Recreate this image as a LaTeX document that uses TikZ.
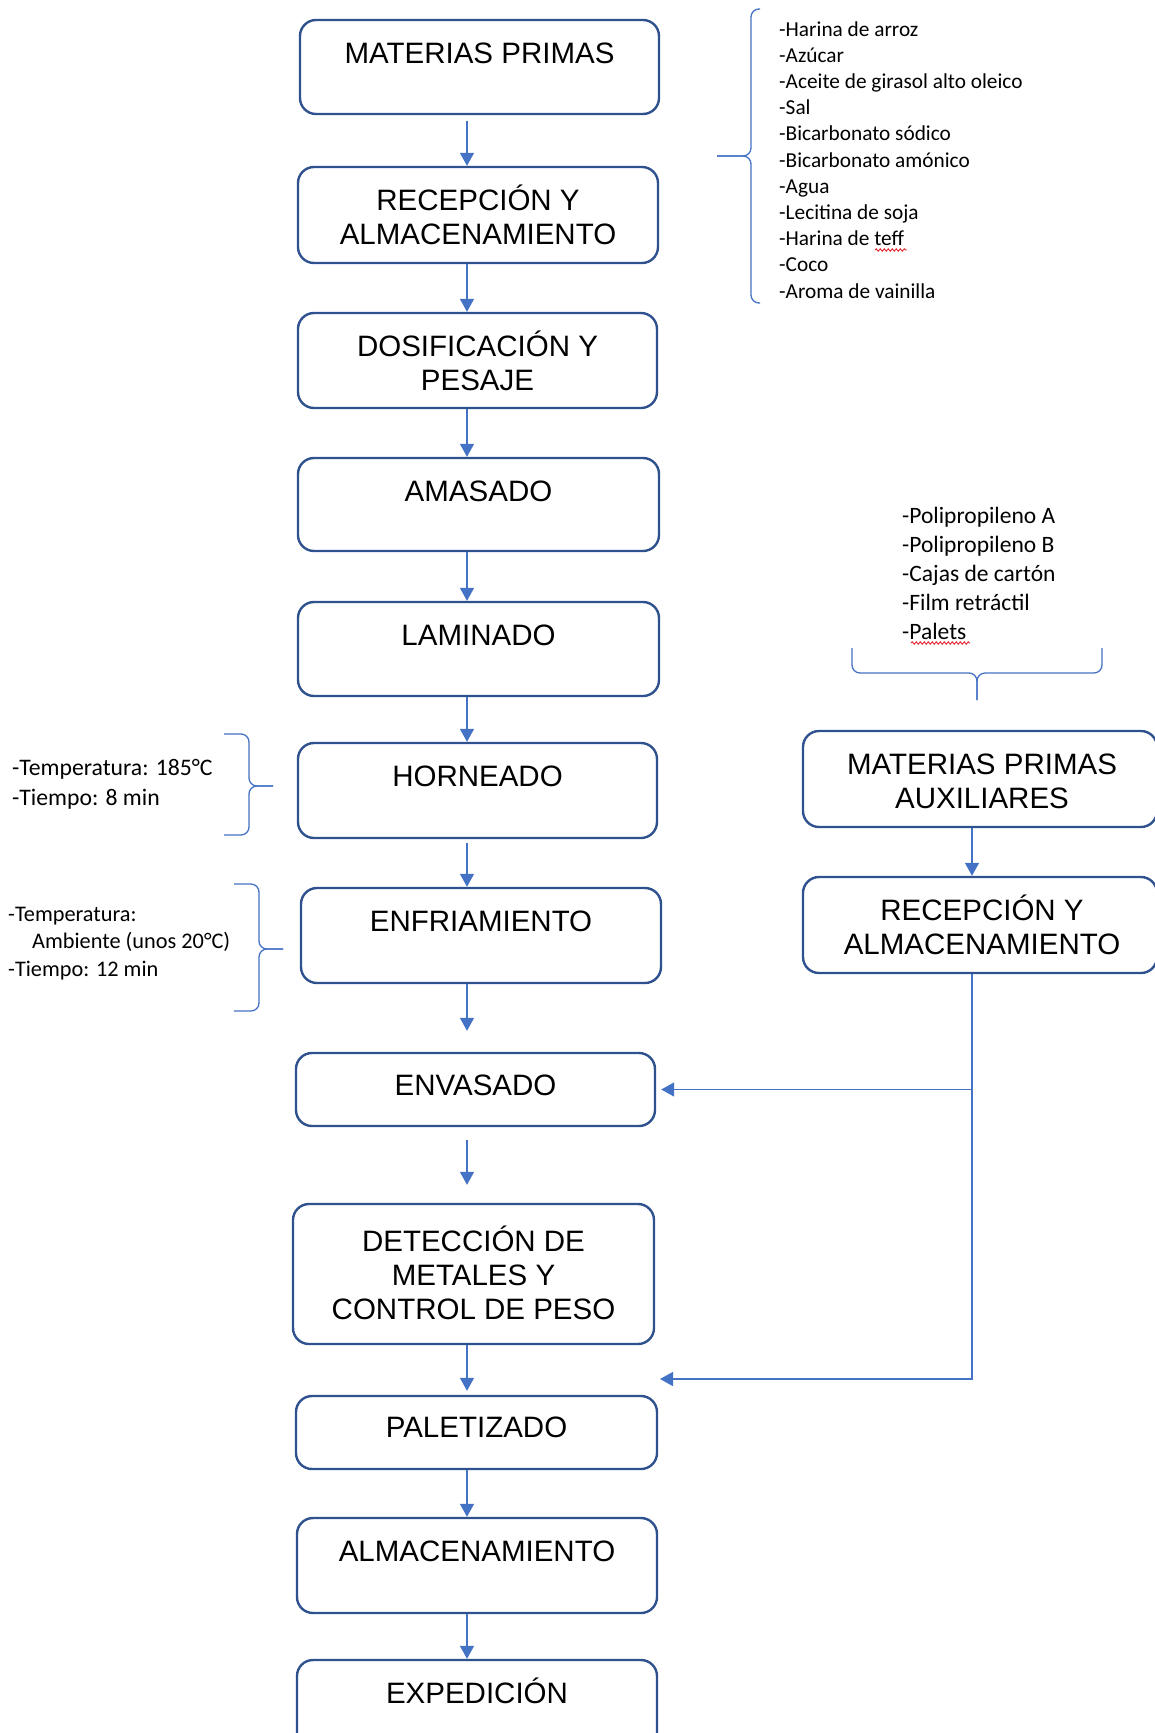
\documentclass[tikz,border=0pt]{standalone}
\usepackage{fontspec}
\setmainfont{Liberation Sans}
\newfontfamily\calfont{Carlito}
\usetikzlibrary{arrows.meta,decorations.pathmorphing}
\definecolor{boxblue}{HTML}{2F528F}
\definecolor{arrblue}{HTML}{4472C4}
\definecolor{spellred}{HTML}{E0242B}
\begin{document}
\begin{tikzpicture}[x=1pt,y=-1pt,
  stage/.style={draw=boxblue, line width=2.4pt, rounded corners=16pt, inner sep=0pt},
  stxt/.style={anchor=base, align=center, inner sep=0pt, font=\fontsize{29.5}{34}\selectfont},
  ann/.style={anchor=base west, align=left, inner sep=0pt},
  flow/.style={draw=arrblue, line width=1.5pt, -{Triangle[length=13pt,width=14pt]}},
  brace/.style={draw=arrblue, line width=1.3pt, rounded corners=8pt},
  squiggle/.style={draw=spellred, line width=0.9pt, decorate, decoration={snake, amplitude=1.2pt, segment length=4pt}}]
\useasboundingbox (0,0) rectangle (1155,1733);
\clip (0,0) rectangle (1155,1733);

% main column boxes
\node[stage, minimum width=359pt, minimum height=94pt] (b1) at (479.5,67) {};
\node[stage, minimum width=360pt, minimum height=96pt] (b2) at (478,215) {};
\node[stage, minimum width=359pt, minimum height=95pt] (b3) at (477.5,360.5) {};
\node[stage, minimum width=361pt, minimum height=93pt] (b4) at (478.5,504.5) {};
\node[stage, minimum width=361pt, minimum height=94pt] (b5) at (478.5,649) {};
\node[stage, minimum width=359pt, minimum height=95pt] (b6) at (477.5,790.5) {};
\node[stage, minimum width=360pt, minimum height=95pt] (b7) at (481,935.5) {};
\node[stage, minimum width=359pt, minimum height=73pt] (b8) at (475.5,1089.5) {};
\node[stage, minimum width=361pt, minimum height=140pt] (b9) at (473.5,1274) {};
\node[stage, minimum width=361pt, minimum height=73pt] (b10) at (476.5,1432.5) {};
\node[stage, minimum width=360pt, minimum height=95pt] (b11) at (477,1565.5) {};
\node[stage, minimum width=360pt, minimum height=95pt] (b12) at (477,1707.5) {};

% right column boxes
\node[stage, minimum width=354pt, minimum height=96pt] (a1) at (980,779) {};
\node[stage, minimum width=354pt, minimum height=96pt] (a2) at (980,925) {};

% box texts (base anchor = baseline of the last line)
\node[stxt] (t1) at ([yshift=-44.5pt]b1.north) {MATERIAS PRIMAS};
\node[stxt] (t2x) at ([yshift=-78.5pt]b2.north) {RECEPCIÓN Y\\ALMACENAMIENTO};
\node[stxt] (t3) at ([yshift=-78.5pt]b3.north) {DOSIFICACIÓN Y\\PESAJE};
\node[stxt] (t4) at ([yshift=-44.5pt]b4.north) {AMASADO};
\node[stxt] (t5) at ([yshift=-44.5pt]b5.north) {LAMINADO};
\node[stxt] (t6) at ([yshift=-45pt]b6.north) {HORNEADO};
\node[stxt] (t7) at ([yshift=-45pt]b7.north) {ENFRIAMIENTO};
\node[stxt] (t8) at ([yshift=-43.5pt]b8.north) {ENVASADO};
\node[stxt] (t9) at ([yshift=-116.5pt]b9.north) {DETECCIÓN DE\\METALES Y\\CONTROL DE PESO};
\node[stxt] (t10) at ([yshift=-43pt]b10.north) {PALETIZADO};
\node[stxt] (t11) at ([yshift=-44.5pt]b11.north) {ALMACENAMIENTO};
\node[stxt] (t12) at ([yshift=-44.5pt]b12.north) {EXPEDICIÓN};
\node[stxt] (ta1) at ([xshift=2pt,yshift=-78.5pt]a1.north) {MATERIAS PRIMAS\\AUXILIARES};
\node[stxt] (ta2) at ([xshift=2pt,yshift=-78.5pt]a2.north) {RECEPCIÓN Y\\ALMACENAMIENTO};

% annotations (base west = baseline of the last line)
\node[ann, font=\calfont\fontsize{21.3}{26.2}\selectfont] (ing) at (779,298)
  {-Harina de arroz\\-Azúcar\\-Aceite de girasol alto oleico\\-Sal\\-Bicarbonato sódico\\-Bicarbonato amónico\\-Agua\\-Lecitina de soja\\-Harina de teff\\-Coco\\-Aroma de vainilla};
\node[ann, font=\calfont\fontsize{23.5}{29}\selectfont] (aux) at (902,639)
  {-Polipropileno A\\-Polipropileno B\\-Cajas de cartón\\-Film retráctil\\-Palets};
\node[ann, font=\calfont\fontsize{23.7}{30}\selectfont] (hann) at (12,805)
  {-Temperatura: 185°C\\-Tiempo: 8 min};
\node[ann, font=\calfont\fontsize{22.3}{27.2}\selectfont] (eann) at (8,976)
  {-Temperatura:\\\hspace*{24pt}Ambiente (unos 20°C)\\-Tiempo: 12 min};

% spell-check marks
\draw[squiggle] (875,250) -- (907,250);
\draw[squiggle] (911,643) -- (970,643);

% braces
\draw[brace] (760,9) -- (751,9) -- (751,156) -- (717,156);
\draw[brace] (760,303) -- (751,303) -- (751,156) -- (717,156);
\draw[brace] (852,648) -- (852,673) -- (977,673) -- (977,700);
\draw[brace] (1102,648) -- (1102,673) -- (977,673) -- (977,700);
\draw[brace] (224,734) -- (249,734) -- (249,786) -- (273,786);
\draw[brace] (224,835) -- (249,835) -- (249,786) -- (273,786);
\draw[brace] (234,884) -- (259,884) -- (259,949) -- (283,949);
\draw[brace] (234,1011) -- (259,1011) -- (259,949) -- (283,949);

% connectors
\coordinate (ax) at (467,0);
\coordinate (rx) at (972,0);
\coordinate (tp) at (660,1379);
\draw[flow, shorten <=6pt] (b1.south -| ax) -- (b2.north -| ax);
\draw[flow] (b2.south -| ax) -- (b3.north -| ax);
\draw[flow] (b3.south -| ax) -- (b4.north -| ax);
\draw[flow] (b4.south -| ax) -- (b5.north -| ax);
\draw[flow] (b5.south -| ax) -- (b6.north -| ax);
\draw[flow, shorten <=4pt] (b6.south -| ax) -- (b7.north -| ax);
\draw[flow, shorten >=21pt] (b7.south -| ax) -- (b8.north -| ax);
\draw[flow, shorten <=13pt, shorten >=18pt] (b8.south -| ax) -- (b9.north -| ax);
\draw[flow, shorten >=4pt] (b9.south -| ax) -- (b10.north -| ax);
\draw[flow] (b10.south -| ax) -- (b11.north -| ax);
\draw[flow] (b11.south -| ax) -- (b12.north -| ax);
\draw[flow] (a1.south -| rx) -- (a2.north -| rx);
\draw[flow] (a2.south -| rx) -- (tp -| rx) -- (tp);
\draw[flow, shorten >=5pt] (b8.east -| rx) -- (b8.east);
\end{tikzpicture}
\end{document}
